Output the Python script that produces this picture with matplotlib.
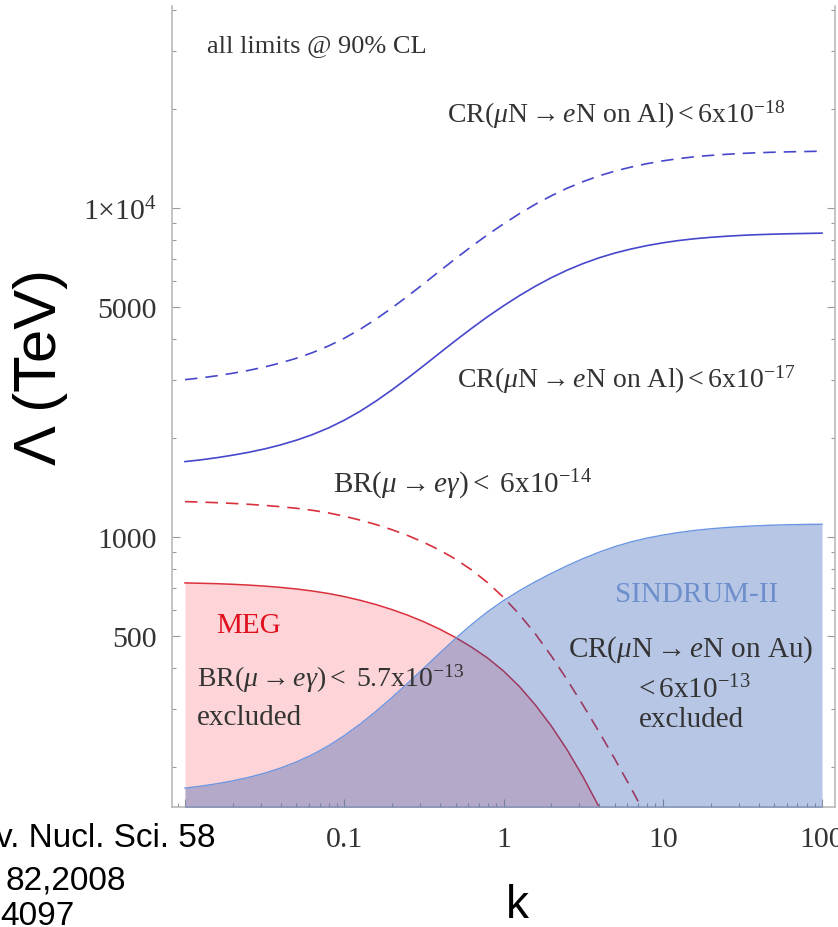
import numpy as np
import matplotlib
matplotlib.use("Agg")
import matplotlib.pyplot as plt
from matplotlib.ticker import FixedLocator, LogLocator, NullFormatter, FixedFormatter

plt.rcParams["font.family"] = ["Liberation Serif", "DejaVu Serif"]
plt.rcParams["mathtext.fontset"] = "custom"
plt.rcParams["mathtext.rm"] = "Liberation Serif"
plt.rcParams["mathtext.it"] = "Liberation Serif:italic"
plt.rcParams["mathtext.bf"] = "Liberation Serif:bold"

# coupling ratio k, sampled every 0.1 decade from 0.01 to 100
k = np.logspace(-2, 2, 41)

# scale limits Lambda (TeV)
# mu-e conversion on Al, CR < 6e-17 (solid)
lam_al_17 = [1694, 1715, 1741, 1772, 1808, 1851, 1904, 1968, 2046, 2143,
             2263, 2410, 2589, 2800, 3043, 3318, 3625, 3956, 4306, 4671,
             5040, 5413, 5782, 6136, 6471, 6776, 7053, 7294, 7500, 7681,
             7833, 7960, 8061, 8140, 8203, 8255, 8295, 8324, 8348, 8365, 8383]
# mu-e conversion on Al, CR < 6e-18 (dashed)
lam_al_18 = [3006, 3043, 3089, 3144, 3208, 3285, 3379, 3492, 3631, 3803,
             4016, 4277, 4594, 4969, 5400, 5888, 6433, 7020, 7641, 8289,
             8943, 9605, 10260, 10888, 11483, 12024, 12516, 12943, 13309, 13630,
             13900, 14125, 14304, 14444, 14556, 14649, 14719, 14771, 14814, 14844, 14876]
# SINDRUM-II, mu-e conversion on Au, CR < 6e-13
lam_au_13 = [172.3, 174.7, 177.7, 181.3, 185.8, 191.3, 198.3, 207.0, 217.8, 231.5,
             248.8, 269.8, 295.1, 324.9, 359.7, 399.2, 443.5, 491.5, 541.8, 592.1,
             640.3, 686.2, 730.9, 774.6, 817.5, 859.2, 898.4, 934.3, 965.6, 991.6,
             1012.7, 1031.3, 1046.6, 1058.3, 1068.0, 1075.5, 1081.5, 1086.1, 1089.1, 1091.4, 1092.9]
# MEG, BR(mu -> e gamma) < 5.7e-13
lam_meg = [724.7, 722.9, 720.7, 717.7, 713.7, 708.7, 702.3, 694.5, 684.8, 673.0,
           658.6, 641.7, 622.6, 601.2, 577.7, 552.0, 524.2, 494.2, 462.1, 428.5,
           391.2, 350.9, 308.4, 266.3, 225.1, 186.3, 151.0, 119.9, 93.2]
# projected BR(mu -> e gamma) < 6e-14
lam_br14 = [1280.3, 1275.9, 1270.6, 1264.3, 1256.4, 1246.8, 1235.5, 1221.7, 1204.7, 1183.0,
            1155.9, 1124.8, 1090.0, 1051.6, 1009.1, 962.2, 911.3, 855.2, 793.3, 726.3,
            654.9, 581.4, 507.1, 434.8, 367.5, 307.6, 255.5, 210.8, 172.6, 140.4, 113.4]
k_meg = k[:len(lam_meg)]
k_br14 = k[:len(lam_br14)]

x_ticks = [0.01, 0.1, 1, 10, 100]
x_tick_labels = ["", "0.1", "1", "10", "100"]
y_ticks = [500, 1000, 5000, 10000]
y_tick_labels = ["500", "1000", "5000", r"1$\times$10$^{4}$"]

W, H = 838, 928
fig = plt.figure(figsize=(W / 100, H / 100), dpi=100)
ax = fig.add_axes([172 / W, 1 - 808 / H, 663 / W, 801 / H])
ax.set_xscale("log")
ax.set_yscale("log")
ax.set_xlim(0.00829, 120.6)
ax.set_ylim(151, 41100)
ylo = ax.get_ylim()[0]

blue = "#4747cc"
red = "#d9303c"
dash = (0, (7.5, 4.8))

# MEG excluded region
ax.fill_between(k_meg, lam_meg, ylo * 0.1, color="#fdd4d7", lw=0, zorder=1)
ax.plot(k_meg, lam_meg, color=red, lw=1.1, zorder=2)
ax.plot(k_br14, lam_br14, color=red, lw=1.2, ls=dash, zorder=2)

# SINDRUM-II excluded region
ax.fill_between(k, lam_au_13, ylo * 0.1, color="#1f4fb0", alpha=0.32, lw=0, zorder=3)
ax.plot(k, lam_au_13, color="#6a95e2", lw=1.0, zorder=4)

# Al conversion reach
ax.plot(k, lam_al_17, color=blue, lw=1.2, zorder=4)
ax.plot(k, lam_al_18, color=blue, lw=1.2, ls=dash, zorder=4)

# axes styling
ax.spines["top"].set_visible(False)
for s in ("left", "right", "bottom"):
    ax.spines[s].set_color("#b4b4b4")
    ax.spines[s].set_linewidth(1.1)

ax.xaxis.set_major_locator(FixedLocator(x_ticks))
ax.xaxis.set_major_formatter(FixedFormatter(x_tick_labels))
ax.xaxis.set_minor_locator(LogLocator(base=10, subs=np.arange(2, 10)))
ax.xaxis.set_minor_formatter(NullFormatter())
ax.yaxis.set_major_locator(FixedLocator(y_ticks))
ax.yaxis.set_major_formatter(FixedFormatter(y_tick_labels))
ax.yaxis.set_minor_locator(LogLocator(base=10, subs=np.arange(2, 10)))
ax.yaxis.set_minor_formatter(NullFormatter())

ax.tick_params(which="both", direction="in", top=False, right=True,
               color="#9a9a9a", width=0.8)
ax.tick_params(which="major", length=6)
ax.tick_params(which="minor", length=3)
ax.tick_params(axis="x", which="major", labelsize=21.5, labelcolor="#333333", pad=14)
ax.tick_params(axis="y", which="major", labelsize=21.5, labelcolor="#333333", pad=11)

tc = "#333333"


def fx(px):
    return (px - 172) / 663


def fy(py):
    return (808 - py) / 801


def note(px, py, s, size=20, color=tc, ha="left"):
    ax.text(fx(px), fy(py), s, transform=ax.transAxes, fontsize=size,
            color=color, ha=ha, va="baseline", zorder=5)


note(207, 52, "all limits @ 90% CL", size=19)
note(447, 123, r"CR($\mu$N$\rightarrow$$e$N on Al)$<$6x10$^{-18}$")
note(457, 388, r"CR($\mu$N$\rightarrow$$e$N on Al)$<$6x10$^{-17}$")
note(333, 493, r"BR($\mu\rightarrow e\gamma$)$<$ 6x10$^{-14}$", size=21)
note(216, 633, "MEG", size=21, color="#e0101e")
note(197, 687, r"BR($\mu\rightarrow e\gamma$)$<$ 5.7x10$^{-13}$")
note(197, 725, "excluded", size=21)
note(615, 602, "SINDRUM-II", size=21, color="#6d8fcb")
note(691, 657, r"CR($\mu$N$\rightarrow$$e$N on Au)", size=21, ha="center")
note(692, 698, r"$<$6x10$^{-13}$", size=21, ha="center")
note(691, 727, "excluded", size=21, ha="center")

# axis titles
fig.text(40 / W, 1 - 367 / H, "Λ (TeV)", rotation=90, fontsize=43,
         family="Liberation Sans", ha="center", va="center")
fig.text(517 / W, 1 - 906 / H, "k", fontsize=33, family="Liberation Sans",
         ha="center", va="center")

# reference note
ref_lines = ["v. Nucl. Sci. 58", "82,2008", "4097"]
ref_x = [-4, 5, 0]
ref_base = [847, 890, 925]
for s, px, py in zip(ref_lines, ref_x, ref_base):
    fig.text(px / W, 1 - py / H, s, fontsize=24, family="Liberation Sans",
             color="black", ha="left", va="baseline")

fig.savefig("out.png", dpi=100)
